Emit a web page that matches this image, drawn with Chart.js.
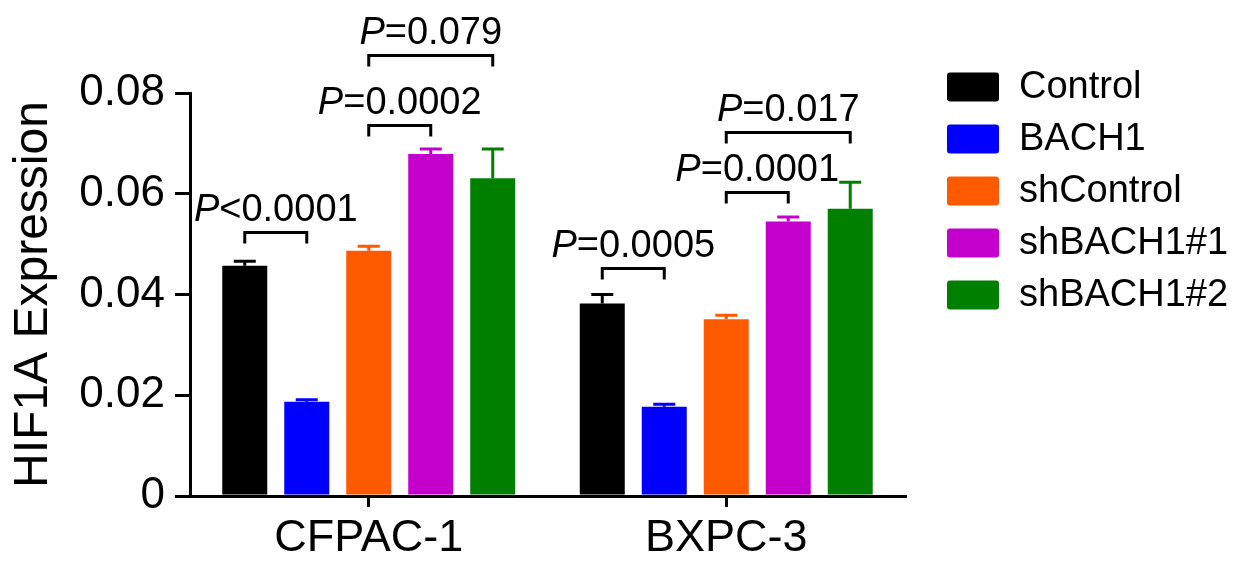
<!DOCTYPE html>
<html>
<head>
<meta charset="utf-8">
<script src="https://cdn.jsdelivr.net/npm/chart.js@4.4.1/dist/chart.umd.min.js"></script>
<style>
  html, body { margin: 0; padding: 0; background: #ffffff; }
  #wrap { width: 1248px; height: 562px; }
</style>
</head>
<body>
<div id="wrap"><canvas id="c" width="1248" height="562"></canvas></div>
<script>
// Cell lines on the x axis
const cellLines = ['CFPAC-1', 'BXPC-3'];

// Group names and colours
const seriesNames = ['Control', 'BACH1', 'shControl', 'shBACH1#1', 'shBACH1#2'];
const seriesColors = ['#000000', '#0000ff', '#ff5a00', '#c400cc', '#007f00'];

// Mean HIF1A expression per cell line
const controlMean   = [0.0457, 0.0382];
const bach1Mean     = [0.0187, 0.0177];
const shControlMean = [0.0487, 0.0351];
const shBach1n1Mean = [0.0679, 0.0545];
const shBach1n2Mean = [0.0631, 0.0570];

// Standard errors (upper whisker)
const controlErr   = [0.0009, 0.0018];
const bach1Err     = [0.0004, 0.0005];
const shControlErr = [0.0009, 0.0008];
const shBach1n1Err = [0.0010, 0.0009];
const shBach1n2Err = [0.0058, 0.0053];

// y axis ticks
const yTickValues = [0, 0.02, 0.04, 0.06, 0.08];
const yTickLabels = ['0', '0.02', '0.04', '0.06', '0.08'];

// Significance brackets: cell line index, series pair, bracket height, p text
const bracketGroup = [0, 0, 0, 1, 1, 1];
const bracketFrom  = [0, 2, 2, 0, 2, 2];
const bracketTo    = [1, 3, 4, 1, 3, 4];
const bracketLevel = [0.0525, 0.0737, 0.0876, 0.0453, 0.0604, 0.0722];
const bracketText  = ['<0.0001', '=0.0002', '=0.079', '=0.0005', '=0.0001', '=0.017'];

const means = [controlMean, bach1Mean, shControlMean, shBach1n1Mean, shBach1n2Mean];
const errs  = [controlErr, bach1Err, shControlErr, shBach1n1Err, shBach1n2Err];

const FONT = "'Liberation Sans', Arial, Helvetica, sans-serif";

const datasets = seriesNames.map((name, i) => ({
  label: name,
  data: means[i],
  errors: errs[i],
  backgroundColor: seriesColors[i],
  borderColor: seriesColors[i],
  borderWidth: 0,
  categoryPercentage: 0.867,
  barPercentage: 0.726
}));

// Upper error whiskers
const errorBars = {
  id: 'errorBars',
  afterDatasetsDraw(chart) {
    const ctx = chart.ctx;
    const y = chart.scales.y;
    chart.data.datasets.forEach((ds, di) => {
      const meta = chart.getDatasetMeta(di);
      meta.data.forEach((bar, j) => {
        const top = y.getPixelForValue(ds.data[j]);
        const tip = y.getPixelForValue(ds.data[j] + ds.errors[j]);
        ctx.save();
        ctx.strokeStyle = ds.borderColor;
        ctx.lineWidth = 3;
        ctx.beginPath();
        ctx.moveTo(bar.x, top);
        ctx.lineTo(bar.x, tip);
        ctx.moveTo(bar.x - 11, tip);
        ctx.lineTo(bar.x + 11, tip);
        ctx.stroke();
        ctx.restore();
      });
    });
  }
};

// Brackets with p values
const brackets = {
  id: 'brackets',
  afterDraw(chart) {
    const ctx = chart.ctx;
    const y = chart.scales.y;
    bracketLevel.forEach((lvl, k) => {
      const g = bracketGroup[k];
      const x1 = chart.getDatasetMeta(bracketFrom[k]).data[g].x;
      const x2 = chart.getDatasetMeta(bracketTo[k]).data[g].x;
      const yp = Math.round(y.getPixelForValue(lvl)) + 0.5;
      ctx.save();
      ctx.strokeStyle = '#000';
      ctx.lineWidth = 3;
      ctx.lineJoin = 'miter';
      ctx.beginPath();
      ctx.moveTo(x1, yp + 11);
      ctx.lineTo(x1, yp);
      ctx.lineTo(x2, yp);
      ctx.lineTo(x2, yp + 11);
      ctx.stroke();

      const italic = 'italic 38px ' + FONT;
      const normal = '38px ' + FONT;
      ctx.font = italic;
      const wP = ctx.measureText('P').width;
      ctx.font = normal;
      const wR = ctx.measureText(bracketText[k]).width;
      const start = (x1 + x2) / 2 - (wP + wR) / 2;
      ctx.fillStyle = '#000';
      ctx.textBaseline = 'alphabetic';
      ctx.textAlign = 'left';
      ctx.font = italic;
      ctx.fillText('P', start, yp - 12);
      ctx.font = normal;
      ctx.fillText(bracketText[k], start + wP, yp - 12);
      ctx.restore();
    });
  }
};

// Legend to the right of the plot
const sideLegend = {
  id: 'sideLegend',
  afterDraw(chart) {
    const ctx = chart.ctx;
    const area = chart.chartArea;
    const left = area.right + 42;
    chart.data.datasets.forEach((ds, i) => {
      const cy = area.top - 6 + i * 52;
      ctx.save();
      ctx.fillStyle = ds.backgroundColor;
      ctx.beginPath();
      ctx.roundRect(left, cy - 14.5, 52, 29, 3);
      ctx.fill();
      ctx.fillStyle = '#000';
      ctx.font = '38px ' + FONT;
      ctx.textBaseline = 'middle';
      ctx.textAlign = 'left';
      ctx.fillText(ds.label, left + 72, cy + 1);
      ctx.restore();
    });
  }
};

new Chart(document.getElementById('c'), {
  type: 'bar',
  data: { labels: cellLines, datasets },
  plugins: [errorBars, brackets, sideLegend],
  options: {
    responsive: false,
    animation: false,
    devicePixelRatio: 1,
    layout: { padding: { left: 0, top: 93, right: 343, bottom: 0 } },
    plugins: {
      legend: { display: false },
      tooltip: { enabled: false }
    },
    scales: {
      x: {
        z: 1,
        afterFit(scale) { scale.height = 66; },
        grid: {
          offset: false,
          drawOnChartArea: false,
          drawTicks: true,
          tickLength: 11,
          lineWidth: 3,
          color: '#000'
        },
        border: { display: true, color: '#000', width: 3 },
        ticks: {
          color: '#000',
          font: { family: FONT, size: 45 },
          padding: 5
        }
      },
      y: {
        z: 1,
        min: 0,
        max: 0.08,
        afterFit(scale) { scale.width = 190; },
        afterBuildTicks(scale) {
          scale.ticks = yTickValues.map(v => ({ value: v }));
        },
        grid: {
          drawOnChartArea: false,
          drawTicks: true,
          tickLength: 15,
          lineWidth: 3,
          color: '#000'
        },
        border: { display: true, color: '#000', width: 3 },
        ticks: {
          color: '#000',
          font: { family: FONT, size: 44 },
          padding: 10,
          callback(value) {
            const idx = yTickValues.findIndex(v => Math.abs(v - value) < 1e-9);
            return idx >= 0 ? yTickLabels[idx] : '';
          }
        },
        title: {
          display: true,
          text: 'HIF1A Expression',
          color: '#000',
          font: { family: FONT, size: 48 },
          padding: { top: 5, bottom: 0 }
        }
      }
    }
  }
});
</script>
</body>
</html>
